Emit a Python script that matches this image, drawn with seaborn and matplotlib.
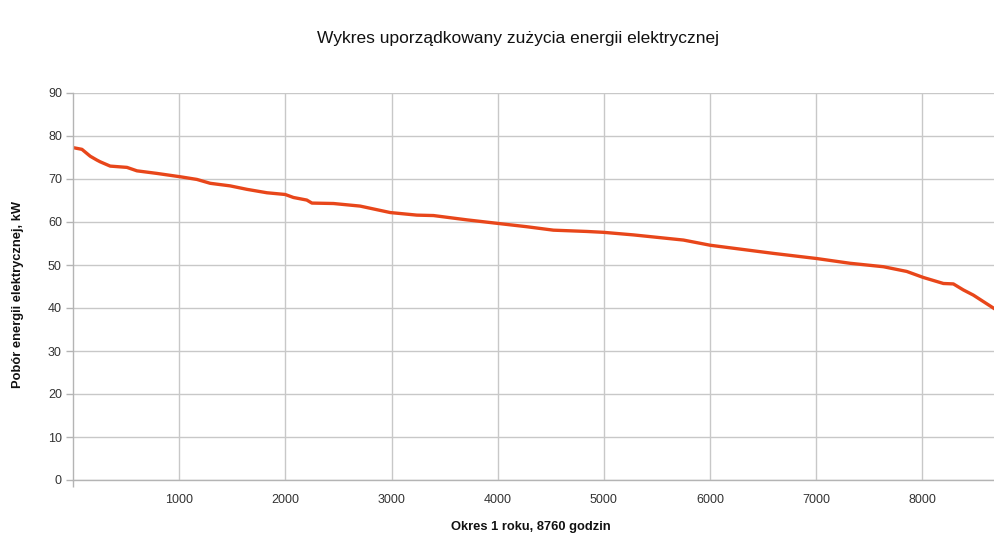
import matplotlib
matplotlib.use("Agg")
import matplotlib.pyplot as plt
import seaborn as sns
import pandas as pd
from matplotlib import font_manager

# Data (hours of year, ordered load in kW)
hours = [0, 84, 162, 225, 256, 350, 508, 602, 790, 1015, 1167, 1292, 1480, 1637,
         1826, 1998, 2076, 2202, 2250, 2453, 2704, 2987, 3238, 3395, 3709, 3991,
         4274, 4524, 4839, 4995, 5278, 5592, 5749, 6000, 6219, 6596, 7005, 7318,
         7632, 7852, 8008, 8197, 8291, 8385, 8479, 8573, 8686, 8760]
load_kw = [77.3, 76.9, 75.3, 74.4, 74.0, 73.0, 72.7, 71.9, 71.3, 70.5, 69.9, 69.0,
           68.4, 67.6, 66.8, 66.4, 65.7, 65.1, 64.4, 64.3, 63.7, 62.2, 61.6, 61.5,
           60.5, 59.7, 58.9, 58.1, 57.8, 57.6, 57.0, 56.2, 55.8, 54.6, 53.9, 52.7,
           51.5, 50.4, 49.6, 48.5, 47.1, 45.7, 45.6, 44.2, 43.0, 41.5, 39.7, 38.5]
x_ticks = [1000, 2000, 3000, 4000, 5000, 6000, 7000, 8000]
y_ticks = [0, 10, 20, 30, 40, 50, 60, 70, 80, 90]

title = "Wykres uporządkowany zużycia energii elektrycznej"
xlabel = "Okres 1 roku, 8760 godzin"
ylabel = "Pobór energii elektrycznej, kW"

sns.set_theme(style="white")
plt.rcParams['font.family'] = ['Liberation Sans', 'DejaVu Sans']

names = {f.name for f in font_manager.fontManager.ttflist}
narrow = 'Liberation Sans Narrow' if 'Liberation Sans Narrow' in names else 'Liberation Sans'

df = pd.DataFrame({"h": hours, "kw": load_kw})

fig = plt.figure(figsize=(9.95, 5.33), dpi=100)
ax = fig.add_axes([73 / 995, 53 / 533, (995 - 73) / 995, 387 / 533])

sns.lineplot(data=df, x="h", y="kw", ax=ax, color="#e8461a", linewidth=2.4)

ax.set_xlim(0, 8683)
ax.set_ylim(0, 90)
ax.set_xticks(x_ticks)
ax.set_yticks(y_ticks)
ax.set_xticks([0], minor=True)
ax.grid(True, which="major", color="#c8c8c8", linewidth=1.0)
ax.set_axisbelow(True)
for s in ["top", "right"]:
    ax.spines[s].set_visible(False)
for s in ["left", "bottom"]:
    ax.spines[s].set_color("#b4b4b4")
    ax.spines[s].set_linewidth(1.0)
ax.tick_params(axis="y", left=True, length=5, width=1, color="#b4b4b4",
               labelsize=9, labelcolor="#333333", pad=3)
ax.tick_params(axis="x", which="major", bottom=False, labelsize=9,
               labelcolor="#333333", pad=4)
ax.tick_params(axis="x", which="minor", bottom=True, length=5, width=1,
               color="#b4b4b4")
ax.set_xlabel("")
ax.set_ylabel("")

fig.text(518 / 995, 1 - 38 / 533, title, ha="center", va="center",
         fontsize=12.5, color="#111111")
fig.text(531 / 995, 1 - 527 / 533, xlabel, ha="center", va="center",
         fontsize=9.3, fontweight="bold", family=narrow, color="#111111")
fig.text(18 / 995, 1 - 295 / 533, ylabel, ha="center", va="center",
         rotation=90, fontsize=9.3, fontweight="bold", family=narrow, color="#111111")

fig.savefig("out.png", dpi=100, facecolor="white")
